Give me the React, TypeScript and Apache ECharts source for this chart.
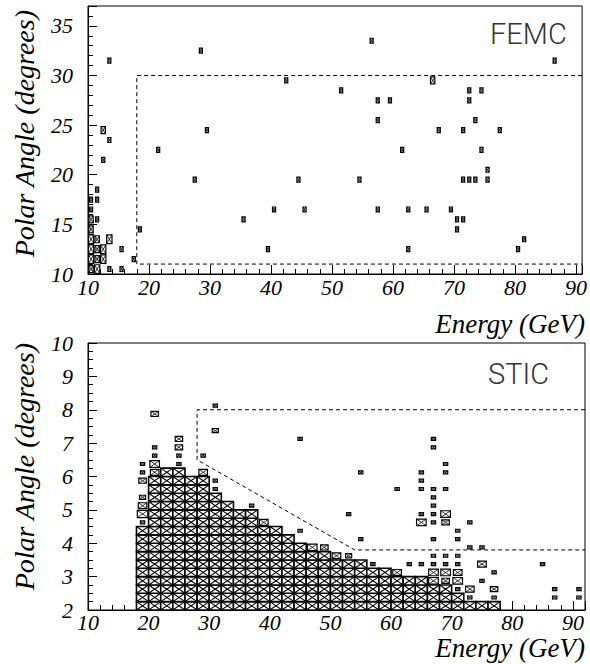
import React, { useEffect, useRef } from "react";
import * as echarts from "echarts";

// ---------------- FEMC (top panel): [energy bin centre, angle bin centre, entries]
const femcBins: number[][] = [
  [10.5, 10.5, 2], [11.5, 10.5, 3], [13.5, 10.5, 1], [15.5, 10.5, 1],
  [10.5, 11.5, 3], [11.5, 11.5, 2], [12.5, 11.5, 3], [17.5, 11.5, 1],
  [10.5, 12.5, 3], [11.5, 12.5, 2], [12.5, 12.5, 3], [15.5, 12.5, 1], [39.5, 12.5, 1], [62.5, 12.5, 1], [80.5, 12.5, 1],
  [10.5, 13.5, 3], [11.5, 13.5, 2], [13.5, 13.5, 3], [81.5, 13.5, 1],
  [10.5, 14.5, 2], [18.5, 14.5, 1], [70.5, 14.5, 1],
  [10.5, 15.5, 2], [11.5, 15.5, 1], [35.5, 15.5, 1], [70.5, 15.5, 1], [71.5, 15.5, 1],
  [10.5, 16.5, 1], [40.5, 16.5, 1], [45.5, 16.5, 1], [57.5, 16.5, 1], [62.5, 16.5, 1], [65.5, 16.5, 1], [69.5, 16.5, 1],
  [10.5, 17.5, 1], [11.5, 17.5, 1],
  [11.5, 18.5, 1],
  [27.5, 19.5, 1], [44.5, 19.5, 1], [54.5, 19.5, 1], [71.5, 19.5, 1], [72.5, 19.5, 1], [73.5, 19.5, 1], [75.5, 19.5, 1],
  [75.5, 20.5, 1],
  [12.5, 21.5, 1],
  [21.5, 22.5, 1], [61.5, 22.5, 1], [74.5, 22.5, 1],
  [13.5, 23.5, 1],
  [12.5, 24.5, 2], [29.5, 24.5, 1], [67.5, 24.5, 1], [71.5, 24.5, 1], [77.5, 24.5, 1],
  [57.5, 25.5, 1], [73.5, 25.5, 1],
  [57.5, 27.5, 1], [59.5, 27.5, 1], [72.5, 27.5, 1],
  [51.5, 28.5, 1], [72.5, 28.5, 1], [74.5, 28.5, 1],
  [42.5, 29.5, 1], [66.5, 29.5, 2],
  [13.5, 31.5, 1], [86.5, 31.5, 1],
  [28.5, 32.5, 1],
  [56.5, 33.5, 1],
];
const femcCut: number[][] = [[91, 30], [18, 30], [18, 11], [91, 11]];

// ---------------- STIC (bottom panel)
// saturated columns: left edge of the 2 GeV bin and top of the filled stack (degrees)
const sticColumnStart = [18, 20, 22, 24, 26, 28, 30, 32, 34, 36, 38, 40, 42, 44, 46, 48, 50, 52, 54, 56, 58, 60, 62, 64, 66, 68, 70, 72, 74, 76];
const sticColumnTop = [4.5, 6.0, 6.25, 6.25, 6.0, 6.0, 5.5, 5.25, 5.0, 5.0, 4.5, 4.5, 4.25, 4.0, 3.75, 3.75, 3.5, 3.5, 3.5, 3.25, 3.25, 3.0, 3.0, 3.0, 2.75, 2.75, 2.5, 2.25, 2.25, 2.25];
// isolated bins: [energy bin centre, angle bin centre, entries]
const sticBins: number[][] = [
  [19, 4.625, 1], [19, 4.875, 6], [19, 5.125, 4], [19, 5.375, 2], [19, 5.875, 3], [19, 6.125, 1], [19, 6.375, 1],
  [21, 6.125, 4], [21, 6.375, 5], [21, 6.625, 1], [21, 6.875, 1], [21, 7.875, 3],
  [25, 6.375, 1], [25, 6.625, 1], [25, 6.875, 3], [25, 7.125, 3],
  [29, 6.125, 4], [29, 6.625, 1],
  [31, 5.625, 1], [31, 5.875, 1], [31, 7.375, 2], [31, 8.125, 1],
  [37, 5.125, 1],
  [39, 4.625, 4],
  [45, 4.375, 1], [45, 7.125, 1],
  [47, 3.875, 5],
  [49, 3.875, 3],
  [51, 3.625, 4],
  [53, 3.625, 2], [53, 4.875, 1],
  [55, 4.125, 1], [55, 6.125, 1],
  [57, 3.375, 1],
  [61, 3.125, 4], [61, 5.625, 1],
  [63, 3.375, 1],
  [65, 3.375, 1], [65, 4.625, 5], [65, 4.875, 1], [65, 5.625, 1], [65, 5.875, 1], [65, 6.125, 1],
  [67, 2.875, 5], [67, 3.125, 5], [67, 3.375, 1], [67, 3.625, 1], [67, 4.125, 1], [67, 4.625, 1], [67, 4.875, 1], [67, 5.125, 1], [67, 5.375, 1], [67, 5.625, 1], [67, 6.875, 1], [67, 7.125, 1],
  [69, 2.875, 3], [69, 3.125, 5], [69, 3.375, 1], [69, 3.625, 1], [69, 4.625, 3], [69, 4.875, 5], [69, 5.625, 1], [69, 6.125, 1], [69, 6.375, 1],
  [71, 2.625, 1], [71, 2.875, 5], [71, 3.125, 4], [71, 3.375, 1], [71, 3.625, 1], [71, 4.125, 1], [71, 4.375, 1],
  [73, 2.375, 1], [73, 2.625, 4], [73, 3.875, 1], [73, 4.625, 1],
  [75, 2.875, 1], [75, 3.375, 4], [75, 3.875, 1],
  [77, 2.375, 1], [77, 2.625, 3], [77, 3.125, 1],
  [85, 3.375, 1],
  [87, 2.375, 1], [87, 2.625, 1],
  [91, 2.375, 1], [91, 2.625, 1],
];
const sticCut: number[][] = [[92, 8], [28, 8], [28, 6.5], [54, 3.8], [92, 3.8]];

const FEMC_MAX = 4;
const STIC_MAX = 8;
const FEMC_BIN = [1, 1];
const STIC_BIN = [2, 0.25];

const SERIF = "Liberation Serif";

function boxRenderer(bin: number[], maxC: number) {
  return (params: any, api: any) => {
    const x = api.value(0);
    const y = api.value(1);
    const c = api.value(2);
    const p = api.coord([x, y]);
    const s = api.size(bin);
    const f = Math.min(1, Math.sqrt(c / maxC));
    const w = Math.max(3, s[0] * f);
    const h = Math.max(3, s[1] * f);
    const x0 = p[0] - w / 2;
    const y0 = p[1] - h / 2;
    const full = f >= 1;
    return {
      type: "group",
      children: [
        { type: "rect", shape: { x: x0, y: y0, width: w, height: h }, style: { fill: "#fff", stroke: "#000", lineWidth: full ? 1.6 : 1.2 } },
        { type: "line", shape: { x1: x0, y1: y0, x2: x0 + w, y2: y0 + h }, style: { stroke: "#000", lineWidth: full ? 1.1 : 0.8 } },
        { type: "line", shape: { x1: x0, y1: y0 + h, x2: x0 + w, y2: y0 }, style: { stroke: "#000", lineWidth: full ? 1.1 : 0.8 } },
      ],
    };
  };
}

const tickLabel = { fontFamily: SERIF, fontStyle: "italic" as const, fontSize: 22, color: "#000" };

function majorX(grid: number, max: number, margin: number) {
  return {
    type: "value", gridIndex: grid, min: 10, max, interval: 10, position: "bottom",
    axisLine: { show: true, onZero: false, lineStyle: { color: "#000", width: 1 } },
    axisTick: { show: true, inside: true, length: 9, lineStyle: { color: "#000", width: 1 } },
    axisLabel: { ...tickLabel, margin, formatter: (v: number) => (v % 10 === 0 && v <= 90 ? String(v) : "") },
    splitLine: { show: false },
  };
}
function minorX(grid: number, max: number) {
  return {
    type: "value", gridIndex: grid, min: 10, max, interval: 2, position: "bottom",
    axisLine: { show: false },
    axisTick: { show: true, inside: true, length: 5, lineStyle: { color: "#000", width: 1 } },
    axisLabel: { show: false },
    splitLine: { show: false },
  };
}
function majorY(grid: number, min: number, max: number, interval: number) {
  return {
    type: "value", gridIndex: grid, min, max, interval, position: "left",
    axisLine: { show: true, onZero: false, lineStyle: { color: "#000", width: 1 } },
    axisTick: { show: true, inside: true, length: 9, lineStyle: { color: "#000", width: 1 } },
    axisLabel: {
      ...tickLabel, margin: 15,
      formatter: (v: number) => (Math.abs((v - min) / interval - Math.round((v - min) / interval)) < 1e-6 ? String(v) : ""),
    },
    splitLine: { show: false },
  };
}
function minorY(grid: number, min: number, max: number, interval: number) {
  return {
    type: "value", gridIndex: grid, min, max, interval, position: "left",
    axisLine: { show: false },
    axisTick: { show: true, inside: true, length: 5, lineStyle: { color: "#000", width: 1 } },
    axisLabel: { show: false },
    splitLine: { show: false },
  };
}

function buildStic(): number[][] {
  const cells: number[][] = [];
  sticColumnStart.forEach((x0, i) => {
    for (let y = 2; y < sticColumnTop[i] - 1e-9; y += STIC_BIN[1]) {
      cells.push([x0 + STIC_BIN[0] / 2, y + STIC_BIN[1] / 2, STIC_MAX]);
    }
  });
  return cells.concat(sticBins);
}

function titleY(y: number) {
  return {
    type: "text", x: 24, y, rotation: Math.PI / 2,
    style: { text: "Polar Angle (degrees)", fontFamily: SERIF, fontStyle: "italic", fontSize: 28, fill: "#000", align: "right", verticalAlign: "middle" },
  };
}
function titleX(y: number) {
  return {
    type: "text", x: 585, y,
    style: { text: "Energy (GeV)", fontFamily: SERIF, fontStyle: "italic", fontSize: 27, fill: "#000", align: "right", verticalAlign: "middle" },
  };
}
function label(text: string, x: number, y: number) {
  return {
    type: "text", x, y,
    style: { text, fontFamily: "Roboto", fontWeight: 300, fontSize: 29, fill: "#333", align: "left", verticalAlign: "middle" },
  };
}

export default function App() {
  const ref = useRef<HTMLDivElement>(null);
  useEffect(() => {
    document.body.style.margin = "0";
    if (!ref.current) return;
    const chart = echarts.init(ref.current, undefined, { renderer: "svg" });
    chart.setOption({
      animation: false,
      backgroundColor: "#fff",
      grid: [
        { left: 88, top: 6, width: 497, height: 268, show: true, borderColor: "#000", borderWidth: 1, backgroundColor: "transparent" },
        { left: 88, top: 343, width: 497, height: 267, show: true, borderColor: "#000", borderWidth: 1, backgroundColor: "transparent" },
      ],
      xAxis: [majorX(0, 91, 2), minorX(0, 91), majorX(1, 92, 1), minorX(1, 92)],
      yAxis: [majorY(0, 10, 37, 5), minorY(0, 10, 37, 1), majorY(1, 2, 10, 1), minorY(1, 2, 10, 0.25)],
      series: [
        { type: "custom", name: "FEMC", xAxisIndex: 0, yAxisIndex: 0, data: femcBins, renderItem: boxRenderer(FEMC_BIN, FEMC_MAX), clip: true, silent: true },
        { type: "line", xAxisIndex: 0, yAxisIndex: 0, data: femcCut, symbol: "none", silent: true, lineStyle: { color: "#000", width: 1, type: [4, 3] } },
        { type: "custom", name: "STIC", xAxisIndex: 2, yAxisIndex: 2, data: buildStic(), renderItem: boxRenderer(STIC_BIN, STIC_MAX), clip: true, silent: true },
        { type: "line", xAxisIndex: 2, yAxisIndex: 2, data: sticCut, symbol: "none", silent: true, lineStyle: { color: "#000", width: 1, type: [4, 3] } },
      ],
      graphic: [
        titleY(10), titleY(343), titleX(324), titleX(648),
        label("FEMC", 490, 34), label("STIC", 488, 374),
      ],
    });
    return () => chart.dispose();
  }, []);
  return <div ref={ref} style={{ width: 590, height: 664 }} />;
}
